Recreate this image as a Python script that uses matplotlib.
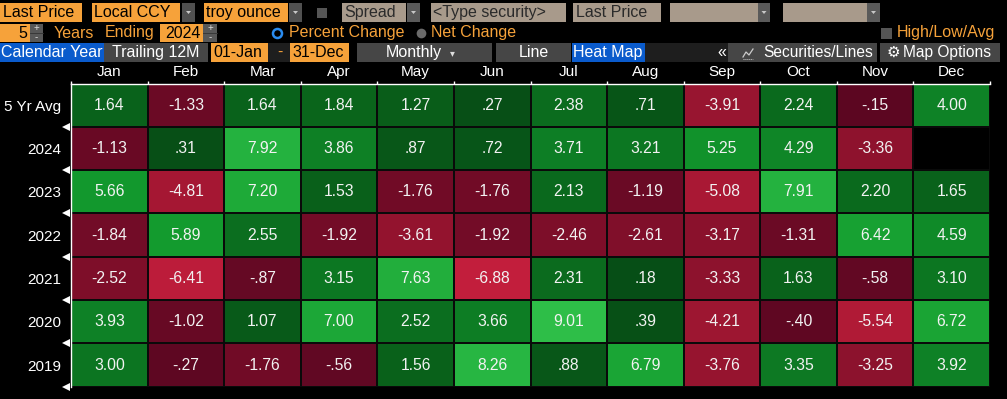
import numpy as np
import matplotlib
matplotlib.use("Agg")
import matplotlib.pyplot as plt
from matplotlib.colors import LinearSegmentedColormap, Normalize
from matplotlib.patches import Rectangle, Polygon
from matplotlib.lines import Line2D

# ---------------- data ----------------
months = ["Jan", "Feb", "Mar", "Apr", "May", "Jun", "Jul", "Aug", "Sep", "Oct", "Nov", "Dec"]
row_labels = ["5 Yr Avg", "2024", "2023", "2022", "2021", "2020", "2019"]
avg_5yr = [1.64, -1.33, 1.64, 1.84, 1.27, 0.27, 2.38, 0.71, -3.91, 2.24, -0.15, 4.00]
y2024 = [-1.13, 0.31, 7.92, 3.86, 0.87, 0.72, 3.71, 3.21, 5.25, 4.29, -3.36, np.nan]
y2023 = [5.66, -4.81, 7.20, 1.53, -1.76, -1.76, 2.13, -1.19, -5.08, 7.91, 2.20, 1.65]
y2022 = [-1.84, 5.89, 2.55, -1.92, -3.61, -1.92, -2.46, -2.61, -3.17, -1.31, 6.42, 4.59]
y2021 = [-2.52, -6.41, -0.87, 3.15, 7.63, -6.88, 2.31, 0.18, -3.33, 1.63, -0.58, 3.10]
y2020 = [3.93, -1.02, 1.07, 7.00, 2.52, 3.66, 9.01, 0.39, -4.21, -0.40, -5.54, 6.72]
y2019 = [3.00, -0.27, -1.76, -0.56, 1.56, 8.26, 0.88, 6.79, -3.76, 3.35, -3.25, 3.92]

data = np.ma.masked_invalid(np.array([avg_5yr, y2024, y2023, y2022, y2021, y2020, y2019]))

W, H = 1007, 399
plt.rcParams["font.family"] = ["Liberation Sans", "DejaVu Sans"]

fig = plt.figure(figsize=(W / 100, H / 100), dpi=100, facecolor="black")

ORANGE = "#f6a23a"
TAN = "#a89a8b"
BGRAY = "#464646"
BLUE = "#0a5bcc"


def fx(x):
    return x / W


def fy(y):
    return 1 - y / H


def rect(x0, y0, x1, y1, color):
    fig.add_artist(Rectangle((fx(x0), fy(y1)), (x1 - x0) / W, (y1 - y0) / H,
                             transform=fig.transFigure, facecolor=color,
                             edgecolor="none", zorder=1))


def text(x, y, s, color="black", ha="left", size=11.5, **kw):
    fig.text(fx(x), fy(y), s, color=color, ha=ha, va="center",
             fontsize=size, zorder=3, **kw)


def dot(x, y, size, face, edge="none", ew=0):
    fig.add_artist(Line2D([fx(x)], [fy(y)], marker="o", markersize=size,
                          markerfacecolor=face, markeredgecolor=edge,
                          markeredgewidth=ew, linestyle="none",
                          transform=fig.transFigure, zorder=3))


def dropdown(x0, y0, x1, y1, color="#505050"):
    rect(x0, y0, x1, y1, color)
    cx, cy = (x0 + x1) / 2, (y0 + y1) / 2
    fig.add_artist(Polygon([(fx(cx - 2.5), fy(cy - 1.5)),
                            (fx(cx + 2.5), fy(cy - 1.5)),
                            (fx(cx), fy(cy + 1.5))],
                           transform=fig.transFigure, facecolor="#c8c8c8",
                           edgecolor="none", zorder=3))


def stepper(x0, y0, x1, y1):
    rect(x0, y0, x1, y1, "#585858")
    cx = (x0 + x1) / 2
    text(cx, y0 + 4.5, "+", color="#dddddd", ha="center", size=7)
    text(cx, y1 - 4.5, "-", color="#dddddd", ha="center", size=7)
    fig.add_artist(Line2D([fx(x0), fx(x1)], [fy((y0 + y1) / 2)] * 2,
                          transform=fig.transFigure, color="#333333", lw=0.6, zorder=2))


# ---------------- toolbar row 1 ----------------
r1a, r1b = 3, 22
r1c = 12.8
rect(0, r1a, 82, r1b, ORANGE); text(3, r1c, "Last Price")
rect(92, r1a, 180, r1b, ORANGE); text(94, r1c, "Local CCY")
dropdown(182, r1a, 195, r1b)
rect(204, r1a, 288, r1b, ORANGE); text(206, r1c, "troy ounce")
dropdown(289, r1a, 302, r1b)
rect(317, 8, 327, 18, "#555555")
rect(342, r1a, 406, r1b, TAN); text(344, r1c, "Spread", color="#2a2a2a")
dropdown(407, r1a, 420, r1b, "#5a5a5a")
rect(431, r1a, 566, r1b, TAN); text(433, r1c, "<Type security>", color="#2a2a2a")
rect(573, r1a, 661, r1b, TAN); text(576, r1c, "Last Price", color="#2a2a2a")
rect(670, r1a, 758, r1b, TAN); dropdown(758, r1a, 770, r1b, "#5a5a5a")
rect(783, r1a, 867, r1b, TAN); dropdown(867, r1a, 880, r1b, "#5a5a5a")

# ---------------- toolbar row 2 ----------------
r2a, r2b = 24, 42
r2c = 33
rect(0, r2a, 30, r2b, ORANGE); text(27, r2c, "5", ha="right")
stepper(30, r2a, 43, r2b)
text(54, r2c, "Years", color=ORANGE)
text(105, r2c, "Ending", color=ORANGE)
rect(160, r2a, 203, r2b, ORANGE); text(201, r2c, "2024", ha="right")
stepper(203, r2a, 217, r2b)
dot(277, r2c, 6.5, "black", "#2a8cf0", 1.8)
text(289, r2c, "Percent Change", color=ORANGE)
dot(421, r2c, 7, "#6a6a6a")
text(431, r2c, "Net Change", color=ORANGE)
rect(881, 28, 892, 39, "#555555")
text(897, r2c, "High/Low/Avg", color=ORANGE)

# ---------------- toolbar row 3 ----------------
r3a, r3b = 43, 62
r3c = 52.5
rect(0, r3a, 104, r3b, BLUE); text(52, r3c, "Calendar Year", color="white", ha="center")
rect(104, r3a, 208, r3b, BGRAY); text(156, r3c, "Trailing 12M", color="white", ha="center")
rect(211, r3a, 268, r3b, ORANGE); text(213, r3c, "01-Jan")
rect(268, r3a, 290, r3b, "#1e1e1e"); text(280, r3c, "-", color=ORANGE, ha="center")
rect(290, r3a, 349, r3b, ORANGE); text(292, r3c, "31-Dec")
rect(357, r3a, 492, r3b, BGRAY); text(414, r3c, "Monthly", color="white", ha="center")
text(452, r3c + 0.5, "\u25BE", color="#dddddd", ha="center", size=7, family=["DejaVu Sans"])
rect(496, r3a, 571, r3b, BGRAY); text(534, r3c, "Line", color="white", ha="center")
rect(572, r3a, 645, r3b, BLUE); text(608, r3c, "Heat Map", color="white", ha="center")
rect(645, r3a, 728, r3b, "#1e1e1e"); text(722, r3c, "\u00AB", color="white", ha="center")
rect(728, r3a, 877, r3b, BGRAY)
# small line-chart icon
fig.add_artist(Line2D([fx(743), fx(746), fx(749), fx(753)],
                      [fy(57), fy(52), fy(55), fy(49)],
                      transform=fig.transFigure, color="#cccccc", lw=0.9, zorder=3))
fig.add_artist(Line2D([fx(743), fx(753)], [fy(58.5), fy(58.5)],
                      transform=fig.transFigure, color="#cccccc", lw=0.7,
                      linestyle=(0, (1, 1)), zorder=3))
text(763, r3c, "Securities/Lines", color="white", size=11.2)
rect(880, r3a, 1000, r3b, BGRAY)
text(893, r3c, "\u2699", color="white", ha="center", size=11, family=["DejaVu Sans"])
text(903, r3c, "Map Options", color="white", size=11.2)

# ---------------- heat map ----------------
left, right, top, bottom = 71, 990, 83.5, 386.7
ax = fig.add_axes([fx(left), fy(bottom), (right - left) / W, (bottom - top) / H])
ax.set_facecolor("black")

z0 = 7 / 16
cmap = LinearSegmentedColormap.from_list("bbg", [
    (0.0, "#c41e3c"),
    (3 / 16, "#9a1530"),
    (5 / 16, "#740c27"),
    (z0, "#5a0621"),
    (z0 + 1e-4, "#064b15"),
    (9 / 16, "#0a671c"),
    (11 / 16, "#0e8226"),
    (13 / 16, "#139c2e"),
    (1.0, "#2ebe48"),
], N=2048)
norm = Normalize(vmin=-7, vmax=9)

ax.pcolormesh(np.arange(13), np.arange(8), data, cmap=cmap, norm=norm,
              edgecolors="#0a0a0a", linewidth=1.2)
ax.set_xlim(0, 12)
ax.set_ylim(7, 0)

for i in range(data.shape[0]):
    for j in range(data.shape[1]):
        v = data[i, j]
        if np.ma.is_masked(v):
            continue
        s = f"{v:.2f}"
        if s.startswith("0."):
            s = s[1:]
        elif s.startswith("-0."):
            s = "-" + s[2:]
        ax.text(j + 0.5, i + 0.5, s, ha="center", va="center", color="#f2f2f2",
                fontsize=11.3)

for sp in ["right", "bottom"]:
    ax.spines[sp].set_visible(False)
for sp in ["top", "left"]:
    ax.spines[sp].set_color("white")
    ax.spines[sp].set_linewidth(1.0)

ax.xaxis.tick_top()
ax.set_xticks(np.arange(13))
ax.set_xticklabels([])
ax.set_xticks(np.arange(12) + 0.5, minor=True)
ax.set_xticklabels(months, minor=True)
ax.tick_params(axis="x", which="major", direction="out", length=2.5, width=1, color="white")
ax.tick_params(axis="x", which="minor", length=0, pad=3, labelsize=11, labelcolor="white")

ax.set_yticks(np.arange(1, 8))
ax.set_yticklabels([])
ax.set_yticks(np.arange(7) + 0.5, minor=True)
ax.set_yticklabels(row_labels, minor=True)
ax.tick_params(axis="y", which="major", length=0)
ax.tick_params(axis="y", which="minor", length=0, pad=7, labelsize=11, labelcolor="white")

# left-pointing triangle markers at row boundaries
ax.plot(np.full(7, -5.5 / (right - left)), np.arange(1, 8), linestyle="none",
        marker="<", markersize=5.5, color="white", markeredgewidth=0,
        transform=ax.get_yaxis_transform(), clip_on=False)

fig.savefig("out.png", dpi=100, facecolor="black")
